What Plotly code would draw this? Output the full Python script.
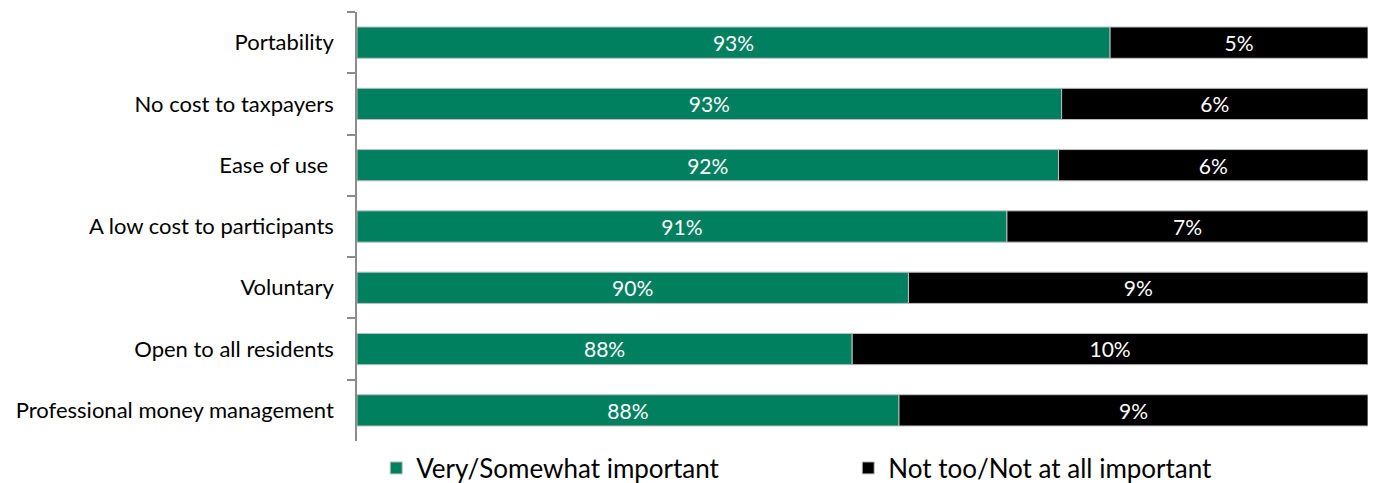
import plotly.graph_objects as go

categories = ["Portability", "No cost to taxpayers", "Ease of use ", "A low cost to participants",
              "Voluntary", "Open to all residents", "Professional money management"]
important = [93, 93, 92, 91, 90, 88, 88]
not_important = [5, 6, 6, 7, 9, 10, 9]
series_names = ["Very/Somewhat important", "Not too/Not at all important"]

# 100% stacked shares (chart axis starts at 80%)
AXIS_MIN, AXIS_MAX = 80, 100
share_imp = [a / (a + b) * 100 for a, b in zip(important, not_important)]
share_not = [100 - s for s in share_imp]

GREEN = "#00805F"
FONT = "Lato"

fig = go.Figure()
fig.add_trace(go.Bar(
    y=categories, x=[s - AXIS_MIN for s in share_imp], base=[AXIS_MIN] * len(categories),
    orientation="h", name=series_names[0],
    marker=dict(color=GREEN, line=dict(color="#BFBFBF", width=1)),
    text=[f"{v}%" for v in important], textposition="inside", insidetextanchor="middle",
    textfont=dict(color="white", size=25, family=FONT), textangle=0,
))
fig.add_trace(go.Bar(
    y=categories, x=share_not, base=share_imp, orientation="h", name=series_names[1],
    marker=dict(color="#000000", line=dict(color="#BFBFBF", width=1)),
    text=[f"{v}%" for v in not_important], textposition="inside", insidetextanchor="middle",
    textfont=dict(color="white", size=25, family=FONT), textangle=0,
))

fig.update_layout(
    width=1376, height=483,
    barmode="overlay", bargap=0.49,
    margin=dict(l=349, r=16, t=4, b=50, autoexpand=False),
    paper_bgcolor="white", plot_bgcolor="white",
    font=dict(family=FONT, size=22, color="#000000"),
    showlegend=True,
    legend=dict(orientation="h", x=0.019, xanchor="left", y=-0.063, yanchor="middle",
                font=dict(size=26, family=FONT), entrywidth=427, entrywidthmode="pixels",
                traceorder="normal", bgcolor="rgba(0,0,0,0)"),
)
fig.update_xaxes(range=[AXIS_MIN, AXIS_MAX], visible=False, showgrid=False, zeroline=False)
fig.update_yaxes(autorange="reversed", showline=True, linecolor="#8C8C8C", linewidth=1.5,
                 ticks="outside", tickson="boundaries", ticklen=8, tickcolor="#8C8C8C",
                 tickwidth=1.5, showgrid=False, ticklabelstandoff=17)

fig.write_html("out.html")
